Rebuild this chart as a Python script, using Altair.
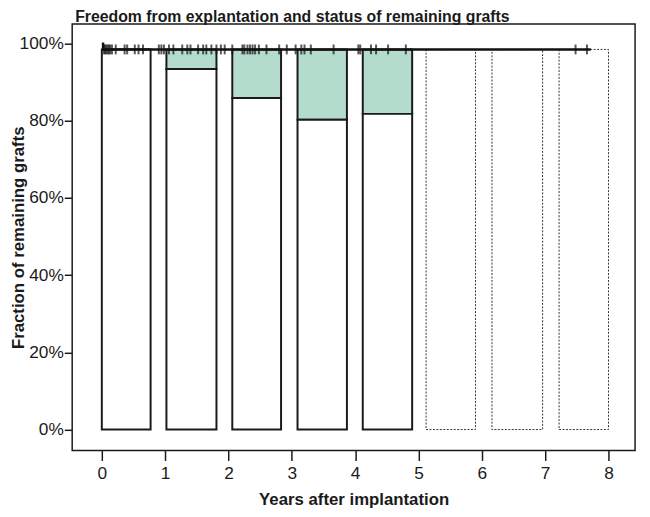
import altair as alt
import pandas as pd

# Bars (years)
bar_start = [0.0, 1.02, 2.06, 3.09, 4.12]
bar_end = [0.77, 1.81, 2.83, 3.87, 4.90]
bar_remaining = [0.985, 0.934, 0.859, 0.803, 0.818]  # white (functioning) fraction
bar_top = 0.985

dash_start = [5.12, 6.16, 7.22]
dash_end = [5.90, 6.96, 8.00]

# Kaplan-Meier step curve
km_time = [0.0, 0.02, 7.72]
km_surv = [1.0, 0.985, 0.985]

# censoring marks
censor_times = [0.03, 0.05, 0.07, 0.09, 0.11, 0.13, 0.16, 0.22, 0.36, 0.40, 0.52, 0.58,
                0.65, 0.90, 0.94, 0.98, 1.06, 1.13, 1.27, 1.35, 1.40, 1.52, 1.60, 1.65,
                1.73, 1.81, 1.88, 1.94, 2.06, 2.22, 2.25, 2.30, 2.34, 2.38, 2.42, 2.48,
                2.60, 2.80, 2.92, 3.06, 3.15, 3.20, 3.30, 3.66, 4.05, 4.08, 4.25, 4.33,
                4.52, 4.80, 7.48, 7.66]

x_ticks = [0, 1, 2, 3, 4, 5, 6, 7, 8]
y_ticks = [0, 0.2, 0.4, 0.6, 0.8, 1.0]

bars = pd.DataFrame({"x0": bar_start, "x1": bar_end, "rem": bar_remaining,
                     "top": [bar_top] * len(bar_start)})
dash = pd.DataFrame({"x0": dash_start, "x1": dash_end, "top": [bar_top] * len(dash_start)})
km = pd.DataFrame({"t": km_time, "s": km_surv})
cens = pd.DataFrame({"t": censor_times, "s": [bar_top] * len(censor_times)})

xscale = alt.Scale(domain=[-0.468, 8.42], nice=False, zero=False)
yscale = alt.Scale(domain=[-0.0545, 1.051], nice=False, zero=False)

xaxis = alt.Axis(values=x_ticks, format="d", title="Years after implantation", grid=False,
                 domain=False, tickSize=10, tickColor="#1a1a1a", tickWidth=1.5,
                 labelFontSize=17.5, labelColor="#1a1a1a", labelPadding=4,
                 labelFont="Liberation Sans",
                 titleFont="Liberation Sans", titleFontSize=17, titleFontWeight="bold",
                 titleColor="#1a1a1a", titleY=50, titleBaseline="middle")
yaxis = alt.Axis(values=y_ticks, format=".0%", title="Fraction of remaining grafts",
                 grid=False, domain=False, tickSize=8, tickColor="#1a1a1a",
                 tickWidth=1.5, labelFontSize=17.5, labelColor="#1a1a1a",
                 labelPadding=1, labelFont="Liberation Sans",
                 titleFont="Liberation Sans", titleFontSize=17, titleFontWeight="bold",
                 titleColor="#1a1a1a", titleX=-54, titleY=216, titleBaseline="middle",
                 titleAngle=-90, titleAlign="center")

green = alt.Chart(bars).mark_rect(fill="#b3dccd", stroke="#1a1a1a", strokeWidth=2).encode(
    x=alt.X("x0:Q", scale=xscale, axis=xaxis), x2="x1:Q",
    y=alt.Y("rem:Q", scale=yscale, axis=yaxis), y2="top:Q")
white = alt.Chart(bars).mark_rect(fill="white", stroke="#1a1a1a", strokeWidth=2).encode(
    x=alt.X("x0:Q", scale=xscale), x2="x1:Q",
    y=alt.Y("rem:Q", scale=yscale), y2=alt.datum(0))
dashed = alt.Chart(dash).mark_rect(fill="white", stroke="#333333", strokeWidth=1,
                                   strokeDash=[2, 1.5]).encode(
    x=alt.X("x0:Q", scale=xscale), x2="x1:Q",
    y=alt.Y("top:Q", scale=yscale), y2=alt.datum(0))
kmline = alt.Chart(km).mark_line(interpolate="step-after", color="#111111",
                                 strokeWidth=2.5).encode(
    x=alt.X("t:Q", scale=xscale), y=alt.Y("s:Q", scale=yscale))
ticks = alt.Chart(cens).mark_tick(orient="vertical", color="#111111", size=10,
                                  thickness=2).encode(
    x=alt.X("t:Q", scale=xscale), y=alt.Y("s:Q", scale=yscale))

chart = alt.layer(dashed, green, white, kmline, ticks).properties(
    width=570, height=432,
    title=alt.Title("Freedom from explantation and status of remaining grafts",
                    anchor="start", frame="group", font="Liberation Sans", fontSize=16,
                    fontWeight="bold", color="#1a1a1a", offset=-1.5, dx=3),
    autosize=alt.AutoSizeParams(type="none"),
    padding={"left": 65, "top": 13, "right": 7, "bottom": 56},
).configure_view(stroke="#1a1a1a", strokeWidth=1.5)

chart.save("out.html", embed_options={"renderer": "svg", "actions": False})
